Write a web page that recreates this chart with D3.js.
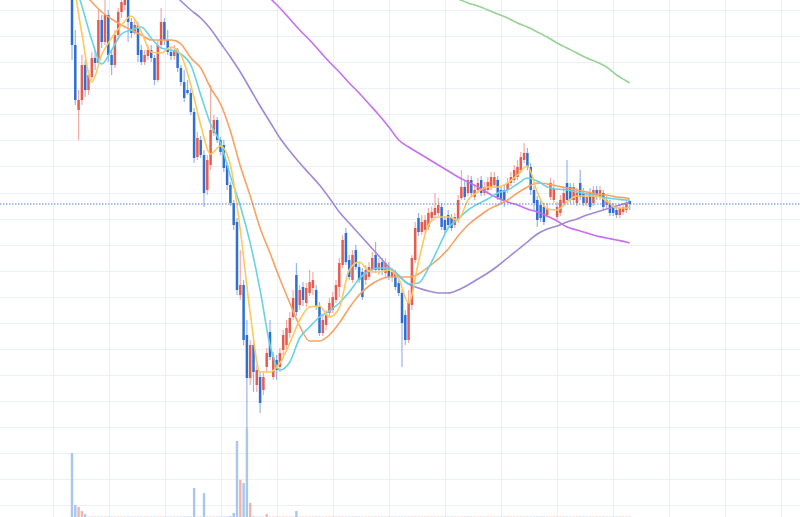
<!DOCTYPE html>
<html><head><meta charset="utf-8">
<script src="https://cdn.jsdelivr.net/npm/d3@7"></script>
<style>html,body{margin:0;padding:0;background:#fff;overflow:hidden}</style>
</head><body><svg id="c" width="800" height="517"></svg>
<script>
const opens = [620,555,490,500,535,510,523,542,537,580,
558,585,545,535,565,588,595,603,578,567,
575,550,538,544,550,542,520,555,578,560,
548,544,550,532,518,510,507,488,443,460,
445,410,435,467,480,460,455,435,415,397,
378,305,315,265,222,255,215,223,210,233,
268,223,240,233,250,255,267,283,325,295,
313,297,307,312,310,293,267,275,287,290,
300,313,335,367,340,320,350,333,328,320,
323,330,345,330,338,327,333,323,327,317,
307,285,260,295,340,382,368,370,373,382,
385,387,393,380,385,382,375,380,402,413,
407,420,403,410,420,407,410,413,415,420,
410,410,410,417,420,423,430,440,447,433,
410,400,395,393,385,403,400,383,387,397,
417,413,400,397,417,407,397,407,397,410,
403,407,395,397,393,390,385,388,390,399];
const highs = [630,570,510,545,540,530,548,550,590,585,
605,590,550,570,592,605,610,608,582,580,
578,555,550,555,555,545,560,592,582,570,
552,555,552,535,530,520,512,492,468,464,
450,445,515,485,483,463,460,438,418,400,
382,350,320,280,260,260,235,228,228,252,
280,248,245,252,270,280,288,310,337,315,
318,317,330,328,315,298,285,290,302,308,
320,342,365,372,345,350,355,338,332,335,
338,348,358,342,342,342,338,332,330,322,
310,290,310,345,378,387,385,385,392,393,
407,402,397,384,390,386,387,405,430,420,
425,424,416,422,424,418,423,428,428,424,
414,415,422,428,435,440,448,457,452,437,
414,404,400,397,397,422,420,398,405,412,
440,417,417,412,430,412,408,412,414,414,
414,410,404,400,397,393,396,397,400,400];
const lows = [540,495,460,495,503,505,520,530,534,552,
555,538,525,532,560,582,590,558,562,565,
538,535,535,540,538,515,518,552,555,545,
540,540,528,514,498,505,485,437,440,442,
393,405,430,464,457,445,428,410,394,370,
305,300,255,172,215,208,208,187,205,228,
240,220,220,228,245,250,262,280,284,290,
294,293,304,305,290,264,264,270,284,287,
297,303,332,335,320,317,330,317,300,315,
320,327,327,325,325,322,320,318,310,304,
233,255,257,290,337,364,365,367,370,378,
382,384,370,367,372,369,372,377,400,400,
404,404,400,407,404,404,407,410,412,400,
397,393,407,414,417,420,427,437,430,405,
390,373,378,375,382,400,397,380,384,394,
397,397,397,394,400,394,394,390,394,400,
400,390,392,384,384,382,382,385,387,390];
const closes = [555,500,500,535,510,525,542,537,580,558,
585,545,535,565,588,598,605,578,567,575,
545,538,545,550,542,520,555,578,560,548,
544,550,532,518,502,507,488,442,462,445,
407,440,470,480,460,448,432,415,397,375,
310,315,260,222,255,228,230,197,223,247,
243,243,230,247,265,272,282,302,288,310,
300,312,318,320,293,267,280,285,297,303,
315,337,360,338,323,345,333,320,303,330,
333,342,330,337,330,337,323,328,313,307,
277,260,297,342,372,368,378,380,387,388,
392,395,373,370,375,372,383,400,413,403,
420,407,410,417,407,413,418,423,423,403,
400,400,417,423,430,433,443,447,433,410,
397,380,382,378,392,417,412,393,400,407,
400,400,413,407,403,397,403,393,410,403,
410,393,400,387,387,385,392,393,396,396];
const volumes = [158,30,25,15,7,1,1,1,1,1,
1,1,1,1,1,1,1,1,1,1,
1,1,1,1,1,1,1,1,1,1,
1,1,1,1,1,1,1,72,1,1,
59,1,1,1,1,1,1,1,2,10,
188,92,84,220,35,2,1,1,1,7,
1,1,1,1,1,1,1,1,15,1,
1,1,1,1,1,1,1,1,1,1,
1,1,1,1,1,1,1,1,1,1,
1,1,1,1,1,1,1,1,1,1,
1,1,1,1,1,1,1,1,1,1,
1,1,1,1,1,1,1,1,1,1,
1,1,1,1,1,1,1,1,1,1,
1,1,1,1,1,1,1,1,1,1,
1,1,1,1,1,1,1,1,1,1,
1,1,1,1,1,1,1,1,1,1,
1,1,1,1,1,1,1,1,1,1];
const maIdx = [0,3,6,9,12,15,18,21,24,27,30,33,36,39,42,45,48,51,54,57,60,63,66,69,72,75,78,81,84,87,90,93,96,99,102,105,108,111,114,117,120,123,126,129,132,135,138,141,144,147,150,153,156,159,162,165,168,169];
const ma5 = [630,566,518,545,562,575,584,568,548,547,553,545,515,475,446,454,435,370,287,228,228,237,257,280,293,294,283,292,330,338,329,328,330,321,297,338,375,383,383,380,400,408,413,413,417,425,434,408,391,390,398,404,404,404,399,392,392,393];
const ma10 = [625,594,560,536,550,566,570,573,562,552,550,546,535,505,476,457,424,394,357,310,255,230,238,262,273,283,289,297,308,321,329,332,332,325,316,317,332,352,372,381,390,396,401,407,410,416,422,419,413,411,410,408,406,404,402,401,400,400];
const ma20 = [615,608,598,588,581,575,570,565,560,560,560,556,542,532,512,496,469,434,404,372,347,321,297,274,259,259,265,277,292,305,314,320,323,323,323,326,333,341,351,364,375,383,390,395,400,407,413,417,416,414,412,410,408,406,405,403,402,401];
const ma60 = [710,700,690,680,670,660,650,640,630,620,609,599,590,582,571,557,543,528,511,494,478,462,449,437,426,415,402,388,377,366,355,344,333,324,316,312,309,307,307,310,315,321,327,334,342,350,358,366,371,374,378,381,385,388,391,394,397,398];
const ma120 = [820,809,798,787,776,766,755,744,733,722,711,700,689,678,668,657,646,635,624,613,602,592,581,570,560,549,538,528,517,507,496,485,473,460,453,447,441,435,429,423,418,413,407,402,398,395,391,388,384,379,373,370,367,364,362,360,358,357];
const ma250 = [740,736,733,729,726,722,719,715,712,708,705,701,697,694,690,687,683,680,676,673,669,666,662,658,655,651,648,644,641,637,634,630,627,623,619,616,612,609,605,601,597,594,590,586,582,577,573,568,563,557,552,547,542,538,533,525,519,517];
const priceGrid = [590,563.9,537.9,511.8,485.7,459.7,433.6,407.5,381.4,355.4,329.3,303.2,277.2,251.1,225.0,198.9,172.9,146.8,120.7,94.7];
const timeGrid = [-5.76,11.21,28.18,45.15,62.12,79.09,96.06,113.03,130.0,146.97,163.94,180.91,197.88,214.85];

const W = 800, H = 517;
const svg = d3.select('#c');
const x = d3.scaleLinear().domain([0, 169]).range([72, 629.7]);
const y = d3.scaleLinear().domain([83, 600]).range([517, 0]);
const yv = d3.scaleLinear().domain([0, 240]).range([517, 420]);

const UP = '#e65c4f', DOWN = '#2f6fd4';
const UPV = '#f2b3ab', DOWNV = '#a9c6ee';

// grid
const gy = svg.append('g').attr('class','grid-y')
  .call(d3.axisRight(y).tickValues(priceGrid).tickSize(W).tickFormat(''));
const gx = svg.append('g').attr('class','grid-x')
  .call(d3.axisBottom(x).tickValues(timeGrid).tickSize(H).tickFormat(''));
svg.selectAll('.grid-y .domain, .grid-x .domain').remove();
svg.selectAll('.grid-y line, .grid-x line').attr('stroke','#ebf0f6').attr('stroke-width',1).attr('shape-rendering','crispEdges');

const data = opens.map((o,i)=>({i, o, h:highs[i], l:lows[i], c:closes[i], v:volumes[i]}));

// volume
svg.append('g').selectAll('rect').data(data).join('rect')
  .attr('x', d => x(d.i) - 1.2)
  .attr('width', 2.4)
  .attr('y', d => yv(d.v))
  .attr('height', d => yv(0) - yv(d.v))
  .attr('fill', d => d.c >= d.o ? UPV : DOWNV);

// candles
const cg = svg.append('g');
cg.selectAll('line').data(data).join('line')
  .attr('x1', d => x(d.i)).attr('x2', d => x(d.i))
  .attr('y1', d => y(d.h)).attr('y2', d => y(d.l))
  .attr('stroke', d => d.c >= d.o ? UP : DOWN)
  .attr('stroke-opacity', 0.5)
  .attr('stroke-width', 1.2);
cg.selectAll('rect').data(data).join('rect')
  .attr('x', d => x(d.i) - 1.25)
  .attr('width', 2.5)
  .attr('y', d => y(Math.max(d.o, d.c)))
  .attr('height', d => Math.max(1, Math.abs(y(d.o) - y(d.c))))
  .attr('fill', d => d.c >= d.o ? UP : DOWN);

// moving averages
const mas = [
  {v: ma250, color:'#93d493'},
  {v: ma120, color:'#c66ff2'},
  {v: ma60, color:'#a088d8'},
  {v: ma20, color:'#f8a264'},
  {v: ma10, color:'#66d4e2'},
  {v: ma5, color:'#ffc75e'}
];
const line = d3.line().x(d => x(d[0])).y(d => y(d[1])).curve(d3.curveMonotoneX);
svg.append('g').selectAll('path').data(mas).join('path')
  .attr('d', m => line(maIdx.map((k,j) => [k, m.v[j]])))
  .attr('fill','none')
  .attr('stroke', m => m.color)
  .attr('stroke-width', 1.6);

// last price line
const last = closes[closes.length - 1];
svg.append('line')
  .attr('x1', 0).attr('x2', W)
  .attr('y1', y(last)).attr('y2', y(last))
  .attr('stroke', '#4f86dd')
  .attr('stroke-width', 1)
  .attr('stroke-dasharray', '1.5,1.5');
</script></body></html>
